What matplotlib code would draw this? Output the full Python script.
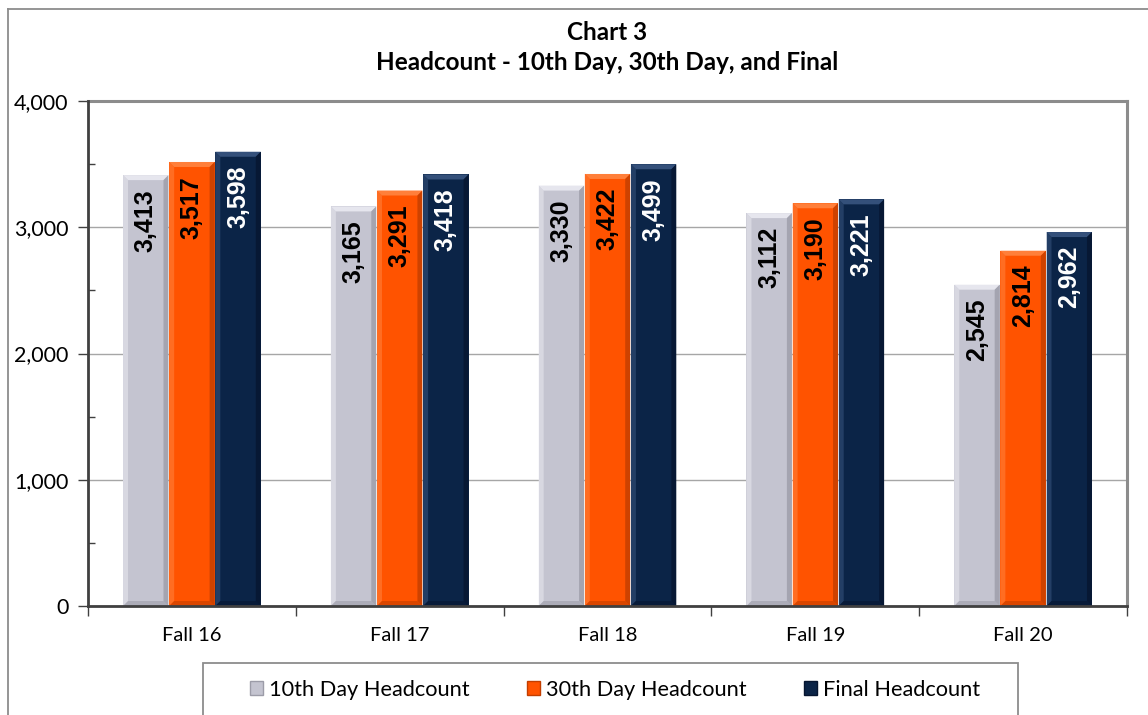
import matplotlib
matplotlib.use("Agg")
import matplotlib.pyplot as plt
import numpy as np
from matplotlib.patches import Rectangle, Polygon
from matplotlib.lines import Line2D
from matplotlib.ticker import FuncFormatter, MultipleLocator

categories = ["Fall 16", "Fall 17", "Fall 18", "Fall 19", "Fall 20"]
series_names = ["10th Day Headcount", "30th Day Headcount", "Final Headcount"]
tenth_day = [3413, 3165, 3330, 3112, 2545]
thirtieth_day = [3517, 3291, 3422, 3190, 2814]
final = [3598, 3418, 3499, 3221, 2962]
title_lines = ["Chart 3", "Headcount - 10th Day, 30th Day, and Final"]

face_colors = ["#C4C4D0", "#FF5300", "#0B2447"]
light_colors = ["#E6E6EE", "#FF7F3A", "#34507A"]
dark_colors = ["#9C9CA8", "#C23E00", "#061530"]
label_colors = ["black", "black", "white"]

FONT = "Lato"
plt.rcParams["font.family"] = [FONT, "DejaVu Sans"]

fig = plt.figure(figsize=(11.48, 7.15), dpi=100)
ax = fig.add_axes([88 / 1148, 1 - 606 / 715, 1039 / 1148, 505 / 715])

x = np.arange(len(categories))
bw = 0.222
offsets = [-bw, 0, bw]
all_series = [tenth_day, thirtieth_day, final]

ax.set_ylim(0, 4000)
ax.set_xlim(-0.5, len(categories) - 0.5)

px_x = (len(categories)) / 1039.0
px_y = 4000 / 505.0
bev = 5

for si, (vals, off) in enumerate(zip(all_series, offsets)):
    bars = ax.bar(x + off, vals, width=bw * 0.985, color=face_colors[si],
                  edgecolor="none", zorder=3, label=series_names[si])
    for b, v in zip(bars, vals):
        x0, w, h = b.get_x(), b.get_width(), b.get_height()
        bx, by = bev * px_x, bev * px_y
        ax.add_patch(Polygon([(x0, h), (x0 + w, h), (x0 + w - bx, h - by), (x0 + bx, h - by)],
                             closed=True, color=light_colors[si], lw=0, zorder=4))
        ax.add_patch(Polygon([(x0, 0), (x0, h), (x0 + bx, h - by), (x0 + bx, by)],
                             closed=True, color=light_colors[si], lw=0, zorder=4, alpha=0.6))
        ax.add_patch(Polygon([(x0 + w, 0), (x0 + w, h), (x0 + w - bx, h - by), (x0 + w - bx, by)],
                             closed=True, color=dark_colors[si], lw=0, zorder=4, alpha=0.8))
        ax.add_patch(Polygon([(x0, 0), (x0 + w, 0), (x0 + w - bx, by), (x0 + bx, by)],
                             closed=True, color=dark_colors[si], lw=0, zorder=4, alpha=0.6))
        ax.annotate(f"{v:,}", xy=(x0 + w / 2, h), xytext=(0, -10), textcoords="offset points",
                    rotation=90, ha="center", va="top", fontsize=18, fontweight="bold",
                    family=["Liberation Sans", "DejaVu Sans"], color=label_colors[si], zorder=5)

ax.yaxis.set_major_locator(MultipleLocator(1000))
ax.yaxis.set_minor_locator(MultipleLocator(500))
ax.grid(axis="y", which="major", color="#A6A6A6", lw=1.0, zorder=0)
ax.yaxis.set_major_formatter(FuncFormatter(lambda v, p: f"{int(v):,}"))
ax.tick_params(axis="y", which="major", direction="out", length=7, width=1, color="#404040",
               labelsize=15.5, pad=7)
ax.tick_params(axis="y", which="minor", direction="in", length=5, width=1, color="#404040")

ax.set_xticks(x)
ax.set_xticklabels(categories)
ax.tick_params(axis="x", which="major", length=0, labelsize=14.5, pad=15)
ax.set_xticks(np.arange(len(categories) + 1) - 0.5, minor=True)
ax.tick_params(axis="x", which="minor", direction="out", length=7, width=1, color="#404040")

for s in ["left", "bottom"]:
    ax.spines[s].set_color("#404040")
    ax.spines[s].set_linewidth(2)
for s in ["top", "right"]:
    ax.spines[s].set_color("#8C8C8C")
    ax.spines[s].set_linewidth(2.2)
ax.spines["left"].set_zorder(6)
ax.spines["bottom"].set_zorder(6)

cx = (88 + 1127) / 2 / 1148
fig.text(cx, 1 - 32 / 715, title_lines[0], ha="center", va="center", fontsize=17.5, fontweight="bold")
fig.text(cx, 1 - 62 / 715, title_lines[1], ha="center", va="center", fontsize=17.5, fontweight="bold")

fig.add_artist(Line2D([8 / 1148, 8 / 1148], [0, 1 - 9 / 715], transform=fig.transFigure, color="#8C8C8C", lw=1.3))
fig.add_artist(Line2D([8 / 1148, 1], [1 - 9 / 715, 1 - 9 / 715], transform=fig.transFigure, color="#8C8C8C", lw=1.3))

fig.add_artist(Rectangle((203 / 1148, -0.05), 815 / 1148, 0.05 + 1 - 663 / 715, transform=fig.transFigure,
                         fill=False, edgecolor="#8C8C8C", lw=1.3))
handles = [Rectangle((0, 0), 1, 1, facecolor=face_colors[i], edgecolor=dark_colors[i], lw=1) for i in range(3)]
leg = fig.legend(handles, series_names, loc="center", bbox_to_anchor=(615 / 1148, 1 - 690 / 715), ncol=3,
                 frameon=False, fontsize=15.7, handlelength=0.6, handleheight=0.6, handletextpad=0.3,
                 columnspacing=2.6)

fig.savefig("out.png", dpi=100)
